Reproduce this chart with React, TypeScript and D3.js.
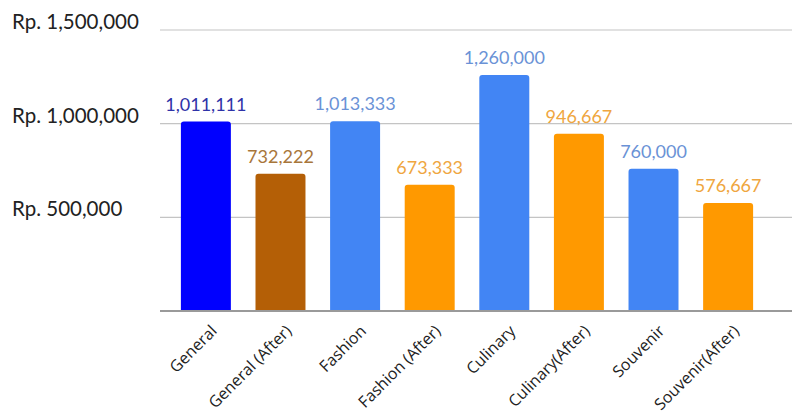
import React from "react";
import * as d3 from "d3";

const categories = ["General", "General (After)", "Fashion", "Fashion (After)", "Culinary", "Culinary(After)", "Souvenir", "Souvenir(After)"];
const values = [1011111, 732222, 1013333, 673333, 1260000, 946667, 760000, 576667];
const barColors = ["#0000ff", "#b45f06", "#4285f4", "#ff9900", "#4285f4", "#ff9900", "#4285f4", "#ff9900"];
const labelColors = ["#2f33a8", "#a8763a", "#6a92d6", "#efa640", "#6a92d6", "#efa640", "#6a92d6", "#efa640"];
const yTicks = [500000, 1000000, 1500000];
const yTickLabels = ["Rp. 500,000", "Rp. 1,000,000", "Rp. 1,500,000"];

const W = 792;
const H = 419;

export default function App() {
  const x = d3.scaleBand<string>().domain(categories).range([160, 774]).paddingInner(0.33).paddingOuter(0.28);
  const y = d3.scaleLinear().domain([0, 1500000]).range([311, 30]);
  const fmt = d3.format(",");
  const font = "Lato, 'Open Sans', sans-serif";
  const r = 3;
  return (
    <div style={{ position: "absolute", left: 0, top: 0 }}>
      <svg width={W} height={H} style={{ display: "block", background: "#fff" }}>
        {yTicks.map((t, i) => (
          <g key={t}>
            <line x1={160} x2={W} y1={y(t)} y2={y(t)} stroke="#c4c4c4" strokeWidth={1.2} />
            <text x={12} y={y(t) - 1} fontFamily={font} fontSize={20.5} fill="#222">{yTickLabels[i]}</text>
          </g>
        ))}
        {categories.map((c, i) => {
          const x0 = x(c)!;
          const w = x.bandwidth();
          const y0 = y(values[i]);
          const y1 = y(0);
          const path = `M${x0},${y1} V${y0 + r} Q${x0},${y0} ${x0 + r},${y0} H${x0 + w - r} Q${x0 + w},${y0} ${x0 + w},${y0 + r} V${y1} Z`;
          return (
            <g key={c}>
              <path d={path} fill={barColors[i]} />
              <text x={x0 + w / 2} y={y0 - 11} textAnchor="middle" fontFamily={font} fontSize={18} fill={labelColors[i]}>{fmt(values[i])}</text>
            </g>
          );
        })}
        <line x1={160} x2={W} y1={y(0)} y2={y(0)} stroke="#9a9a9a" strokeWidth={2} />
        {categories.map((c) => {
          const cx = x(c)! + x.bandwidth() / 2;
          return (
            <text key={c} transform={`translate(${cx + 12},${332}) rotate(-45)`} textAnchor="end" fontFamily="'Open Sans', sans-serif" fontSize={16} fill="#222">{c}</text>
          );
        })}
      </svg>
    </div>
  );
}
